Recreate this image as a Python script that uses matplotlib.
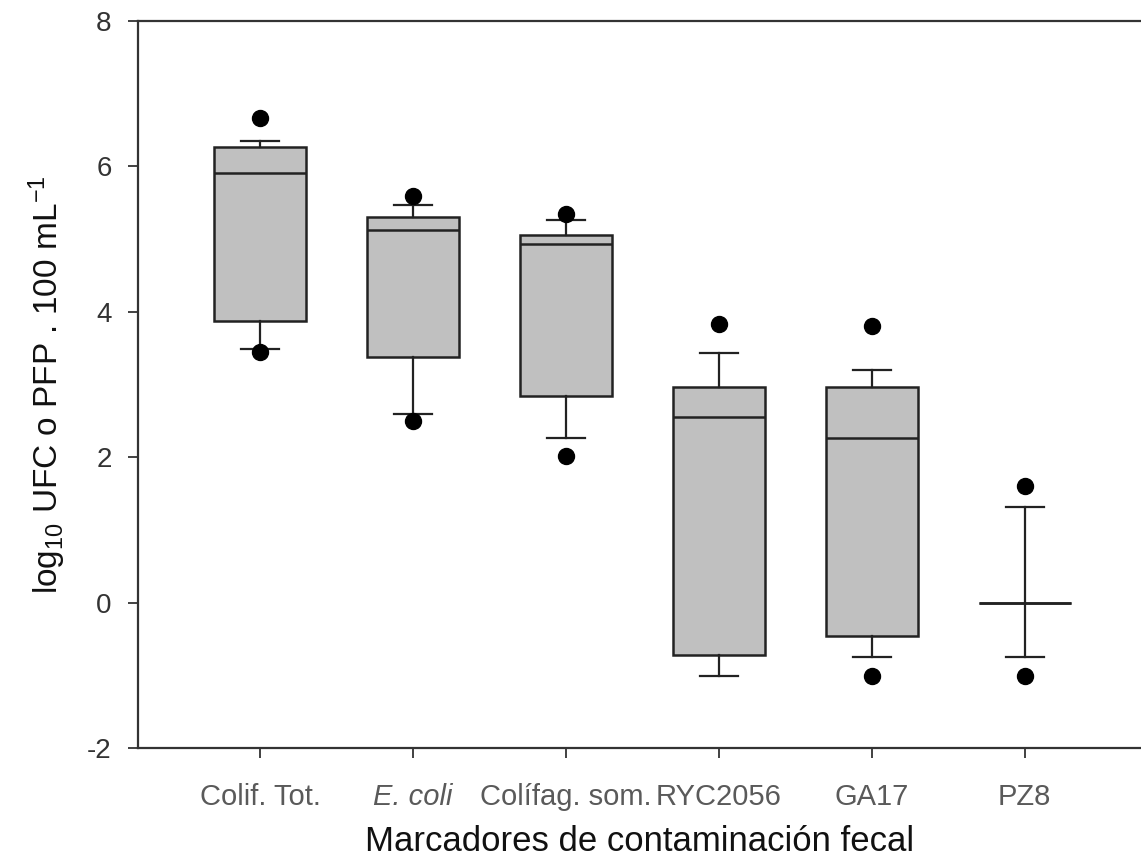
import numpy as np
import matplotlib
matplotlib.use("Agg")
import matplotlib.pyplot as plt

plt.rcParams['font.family'] = ['Liberation Sans', 'DejaVu Sans']
plt.rcParams['mathtext.fontset'] = 'custom'
plt.rcParams['mathtext.rm'] = 'Liberation Sans'
plt.rcParams['axes.unicode_minus'] = False

# markers de contaminacion fecal (log10 units)
labels = ["Colif. Tot.", "E. coli", "Colífag. som.", "RYC2056", "GA17", "PZ8"]
p10 = [3.49, 2.60, 2.27, -1.00, -0.74, -0.74]
q1 = [3.88, 3.38, 2.85, -0.72, -0.45, 0.00]
med = [5.91, 5.12, 4.93, 2.55, 2.27, 0.00]
q3 = [6.27, 5.30, 5.06, 2.97, 2.97, 0.00]
p90 = [6.35, 5.47, 5.27, 3.44, 3.20, 1.32]
outliers = [[3.45, 6.66], [2.50, 5.60], [2.02, 5.35], [3.84], [-1.00, 3.80], [-1.00, 1.60]]

stats = []
for i in range(len(labels)):
    stats.append(dict(whislo=p10[i], q1=q1[i], med=med[i], q3=q3[i],
                      whishi=p90[i], fliers=outliers[i], label=labels[i]))

fig = plt.figure(figsize=(11.41, 8.64), dpi=100)
ax = fig.add_axes([0.121, 0.134, 0.879, 0.8417])

ax.bxp(stats, positions=range(1, len(labels) + 1), widths=0.6, patch_artist=True,
       boxprops=dict(facecolor="#c0c0c0", edgecolor="#222222", linewidth=1.8),
       medianprops=dict(color="#222222", linewidth=1.8),
       whiskerprops=dict(color="#222222", linewidth=1.6),
       capprops=dict(color="#222222", linewidth=1.6),
       capwidths=0.25,
       flierprops=dict(marker="o", markerfacecolor="black", markeredgecolor="black",
                       markersize=11.5))

ax.set_ylim(-2, 8)
ax.set_xlim(0.203, 6.76)
ax.set_yticks([-2, 0, 2, 4, 6, 8])
ax.tick_params(axis="y", direction="out", length=7, width=1.3, labelsize=20,
               colors="#333333", pad=12)
ax.tick_params(axis="x", direction="out", length=7, width=1.3, labelsize=21,
               colors="#333333", labelcolor="#5a5a5a", pad=18)
ax.get_xticklabels()[1].set_fontstyle("italic")

for s in ["left", "bottom", "top"]:
    ax.spines[s].set_linewidth(1.6)
    ax.spines[s].set_color("#333333")
ax.spines["right"].set_visible(False)

ax.set_xlabel("Marcadores de contaminación fecal", fontsize=25, labelpad=10, color="#111111")
ax.set_ylabel("log$\\mathregular{_{10}}$ UFC o PFP . 100 mL$\\mathregular{^{-1}}$",
              fontsize=24, labelpad=14, color="#111111")

plt.savefig("out.png", dpi=100)
